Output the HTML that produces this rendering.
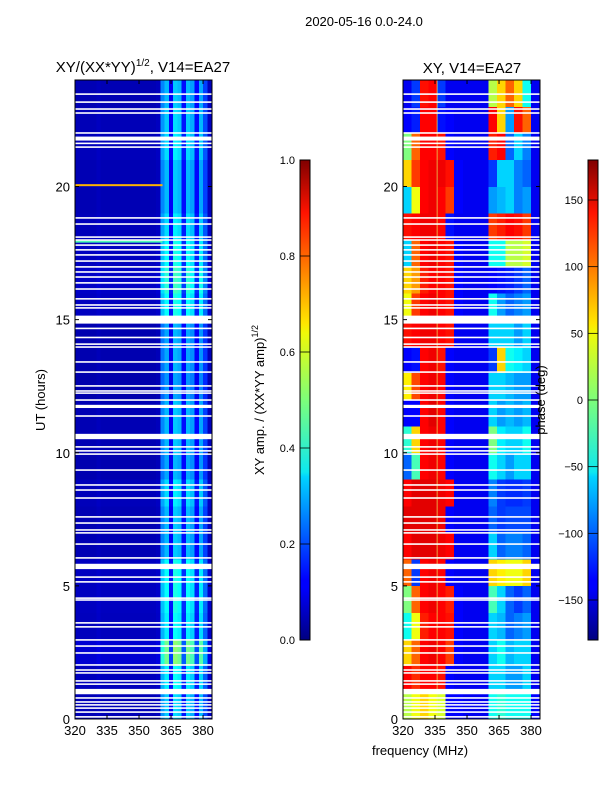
<!DOCTYPE html>
<html><head><meta charset="utf-8"><style>
html,body{margin:0;padding:0;background:#fff;}
svg{display:block;font-family:"Liberation Sans",sans-serif;}
text{fill:#000;}
</style></head><body>
<svg id="fig" width="600" height="800" viewBox="0 0 600 800">
<defs>
<linearGradient id="jet" x1="0" y1="1" x2="0" y2="0">
<stop offset="0" stop-color="#000080"/><stop offset="0.11" stop-color="#0000ff"/>
<stop offset="0.125" stop-color="#0000ff"/><stop offset="0.34" stop-color="#00d4ff"/>
<stop offset="0.35" stop-color="#0de8f0"/><stop offset="0.5" stop-color="#7dff7a"/>
<stop offset="0.64" stop-color="#f0f907"/><stop offset="0.66" stop-color="#ffe600"/>
<stop offset="0.89" stop-color="#ff1300"/><stop offset="1" stop-color="#800000"/>
</linearGradient>
</defs>
<text x="364" y="26" font-size="13" text-anchor="middle">2020-05-16 0.0-24.0</text>
<text x="143" y="72" font-size="15" text-anchor="middle">XY/(XX*YY)<tspan font-size="10" dy="-6">1/2</tspan><tspan dy="6">, V14=EA27</tspan></text>
<text x="472" y="73" font-size="15" text-anchor="middle">XY, V14=EA27</text>
<g id="left"></g>
<g id="right"></g>
<text transform="translate(45,400) rotate(-90)" font-size="13" text-anchor="middle">UT (hours)</text>
<text x="420" y="755" font-size="13" text-anchor="middle">frequency (MHz)</text>
<g id="cb1"></g>
<g id="cb2"></g>
<text transform="translate(264,400) rotate(-90)" font-size="13" text-anchor="middle">XY amp. / (XX*YY amp)<tspan font-size="9" dy="-6">1/2</tspan></text>
<text transform="translate(545,400) rotate(-90)" font-size="13" text-anchor="middle">phase (deg)</text>
</svg>
<script>
// ---- data ----
var xTicks=[320,335,350,365,380];
var yTicks=[0,5,10,15,20];
var ampCbTicks=[0.0,0.2,0.4,0.6,0.8,1.0];
var phaseCbTicks=[-150,-100,-50,0,50,100,150];
// amplitude: 2 MHz columns starting at 320
var ampColProfile=[0.06,0.06,0.06,0.06,0.06,0.07,0.06,0.06,0.06,0.06,0.06,0.06,0.06,0.06,0.06,0.06,0.06,0.06,0.06,0.07,0.3,0.36,0.14,0.38,0.36,0.16,0.36,0.33,0.15,0.34,0.22,0.07];
// amplitude scale per hour 0..23
var ampRowScale=[0.9,1.0,1.35,1.0,1.05,1.05,0.85,0.85,0.95,0.8,0.85,0.85,0.75,0.8,0.8,1.05,1.15,1.05,0.95,0.85,0.85,0.95,0.9,0.85];
// RFI rows in amplitude panel
var rfiHours=[20.05,17.93];
var rfiValues=[0.7,0.45];
// phase (deg): rows hour 0..23, 4 MHz columns starting at 320
var phase=[
[20,40,60,40,30,-135,-135,-140,-140,-140,-40,-30,-40,-40,-40,-135],
[135,120,135,135,130,-135,-140,-140,-140,-140,-60,-60,-80,-80,-60,-140],
[60,100,135,140,135,115,-135,-140,-140,-140,-60,-40,-70,-60,-60,-140],
[-40,40,125,135,135,130,-135,-140,-140,-140,-60,-70,-100,-90,-80,-140],
[0,100,135,140,135,125,-135,-140,-140,-140,-20,-60,-100,-115,-100,-140],
[100,-115,135,140,135,-135,-140,-140,-140,-140,60,50,40,40,60,-140],
[135,145,145,145,140,135,-140,-140,-140,-140,-60,-100,-90,-90,-100,-140],
[145,145,145,145,140,-135,-140,-140,-140,-140,-100,-115,-110,-110,-110,-140],
[135,145,145,145,140,135,-140,-140,-140,-140,-90,-115,-120,-120,-115,-140],
[-100,-20,135,140,135,-135,-140,-140,-140,-140,-40,-60,-80,-60,-60,-140],
[-30,60,135,140,135,-135,-140,-140,-140,-140,0,-50,-60,-60,-40,-140],
[-135,-135,135,145,135,-135,-140,-140,-140,-140,-60,-80,-70,-80,-70,-140],
[50,110,135,140,135,-135,-140,-140,-140,-140,-60,-60,-70,-80,-80,-140],
[-135,-130,135,140,130,-135,-140,-140,-140,-140,-115,60,-40,-50,-60,-140],
[130,135,140,140,135,130,-140,-140,-140,-140,-60,-60,-60,-80,-60,-140],
[40,115,135,140,135,130,-135,-140,-140,-140,-40,-80,-100,-90,-80,-140],
[60,80,125,135,135,130,-135,-140,-140,-140,-135,-130,-125,-115,-100,-140],
[-60,100,135,140,135,130,-135,-140,-140,-140,-40,-40,20,20,30,-140],
[130,135,140,140,135,-130,-140,-140,-140,-140,115,125,135,130,115,-140],
[-60,40,135,140,135,115,-135,-140,-140,-140,-80,-70,-60,-90,-80,-140],
[60,115,135,140,140,130,-135,-140,-140,-140,-115,-60,-60,-90,-100,-140],
[0,100,135,135,130,-135,-140,-140,-140,-140,125,135,-100,-60,-90,-140],
[-135,-125,135,135,-130,-135,-140,-140,-140,-140,135,60,-80,130,100,-140],
[-140,-115,130,135,-115,-140,-140,-140,-140,-140,20,60,100,60,-40,-140]];
// flagged (white) rows: centre hour and width in hours
var flagHours=[23.47,23.17,22.91,22.76,22.01,21.80,21.62,21.48,18.82,18.59,18.10,17.99,17.80,17.62,17.43,17.20,16.98,16.79,16.60,16.38,16.15,15.78,15.55,15.44,15.00,14.67,14.33,14.08,13.97,13.41,13.03,12.51,12.32,12.24,11.98,11.74,11.38,10.61,10.22,10.07,9.95,9.35,8.79,8.60,8.30,7.59,7.36,7.10,6.99,6.57,6.05,5.73,5.33,5.15,4.54,4.47,3.61,3.46,2.97,2.74,2.48,2.03,1.84,1.73,1.43,1.31,1.03,0.79,0.64,0.53,0.41,0.26,0.08];
var flagWidths=[0.06,0.06,0.06,0.06,0.06,0.15,0.06,0.06,0.06,0.06,0.06,0.06,0.06,0.06,0.06,0.06,0.06,0.06,0.06,0.06,0.06,0.06,0.06,0.06,0.3,0.06,0.06,0.06,0.06,0.06,0.06,0.06,0.06,0.06,0.06,0.12,0.06,0.2,0.06,0.06,0.06,0.06,0.06,0.06,0.06,0.06,0.06,0.06,0.06,0.06,0.06,0.2,0.06,0.06,0.06,0.06,0.06,0.06,0.06,0.06,0.06,0.06,0.06,0.06,0.06,0.06,0.2,0.06,0.06,0.06,0.06,0.06,0.06];

// ---- helpers ----
var NS="http://www.w3.org/2000/svg";
function mk(tag,attrs,parent){var e=document.createElementNS(NS,tag);for(var k in attrs)e.setAttribute(k,attrs[k]);parent.appendChild(e);return e;}
function jet(v){v=Math.max(0,Math.min(1,v));
 function c(x){return Math.round(255*Math.max(0,Math.min(1,x)));}
 var r=c(1.5-Math.abs(4*v-3)),g=c(1.5-Math.abs(4*v-2)),b=c(1.5-Math.abs(4*v-1));
 return "rgb("+r+","+g+","+b+")";}
var Y0=80,Y1=719,F0=320,F1=384.2;
function yS(h){return Y1-(h/24)*(Y1-Y0);}
function panel(gid,X0){
 var W=137;
 return {g:document.getElementById(gid),X0:X0,W:W,x:function(f){return X0+(f-F0)/(F1-F0)*W;}};
}
function axes(p){
 var g=p.g;
 mk("rect",{x:p.X0,y:Y0,width:p.W,height:Y1-Y0,fill:"none",stroke:"#000","stroke-width":1},g);
 xTicks.forEach(function(t){var x=p.x(t);
  var l=mk("line",{x1:x,x2:x,y1:Y1,y2:Y1-4,stroke:"#000"},g);
  
  
  mk("line",{x1:x,x2:x,y1:Y0,y2:Y0+4,stroke:"#000"},g);
  var tx=mk("text",{x:x,y:Y1+16,"font-size":13,"text-anchor":"middle"},g);tx.textContent=t;
  
  });
 yTicks.forEach(function(t){var y=yS(t);
  mk("line",{x1:p.X0,x2:p.X0+4,y1:y,y2:y,stroke:"#000"},g);
  mk("line",{x1:p.X0+p.W,x2:p.X0+p.W-4,y1:y,y2:y,stroke:"#000"},g);
  var tx=mk("text",{x:p.X0-5,y:y+5,"font-size":13,"text-anchor":"end"},g);tx.textContent=t;
  
  });
}
function flags(p){
 flagHours.forEach(function(h,i){var w=flagWidths[i];
  var r=mk("rect",{x:p.X0,y:yS(h+w/2),width:p.W,height:(w/24)*(Y1-Y0),fill:"#fff"},p.g);
  
  });
}
// ---- left: amplitude ----
var L=panel("left",75);
ampRowScale.forEach(function(s,r){
 ampColProfile.forEach(function(v,c){
  var f=F0+c*2;var x0=L.x(f),x1=L.x(Math.min(f+2,F1));
  var rc=mk("rect",{x:x0,y:yS(r+1),width:x1-x0+0.3,height:yS(r)-yS(r+1)+0.3,fill:jet(v*s),"shape-rendering":"crispEdges"},L.g);
  
  
 });
});
rfiHours.forEach(function(h,i){
 var rr=mk("rect",{x:L.x(F0),y:yS(h)-1,width:L.x(361)-L.x(F0),height:2,fill:jet(rfiValues[i])},L.g);
 
 
});
flags(L);axes(L);
// ---- right: phase ----
var R=panel("right",403);
phase.forEach(function(row,r){
 row.forEach(function(v,c){
  var f=F0+c*4;var x0=R.x(f),x1=R.x(Math.min(f+4,F1));
  var rc=mk("rect",{x:x0,y:yS(r+1),width:x1-x0+0.3,height:yS(r)-yS(r+1)+0.3,fill:jet((v+180)/360),"shape-rendering":"crispEdges"},R.g);
  
  
 });
});
var vl=mk("line",{x1:R.x(336),x2:R.x(336),y1:Y0,y2:Y1,stroke:"#e8e860","stroke-width":1,opacity:0.7},R.g);


flags(R);axes(R);
// ---- colorbars ----
function colorbar(gid,X,ticks,vmin,vmax){
 var g=document.getElementById(gid),T=160,B=640;
 mk("rect",{x:X,y:T,width:10,height:B-T,fill:"url(#jet)",stroke:"#000","stroke-width":1},g);
 ticks.forEach(function(t){var y=B-(t-vmin)/(vmax-vmin)*(B-T);
  mk("line",{x1:X,x2:X+10,y1:y,y2:y,stroke:"#000","stroke-width":0.8},g);
  var tx=mk("text",{x:X-5,y:y+4,"font-size":11,"text-anchor":"end"},g);
  tx.textContent=(vmax===1?t.toFixed(1):(t<0?"\u2212"+(-t):t));
  
  });
}
colorbar("cb1",300,ampCbTicks,0,1);
colorbar("cb2",588,phaseCbTicks,-180,180);
</script>
</body></html>
